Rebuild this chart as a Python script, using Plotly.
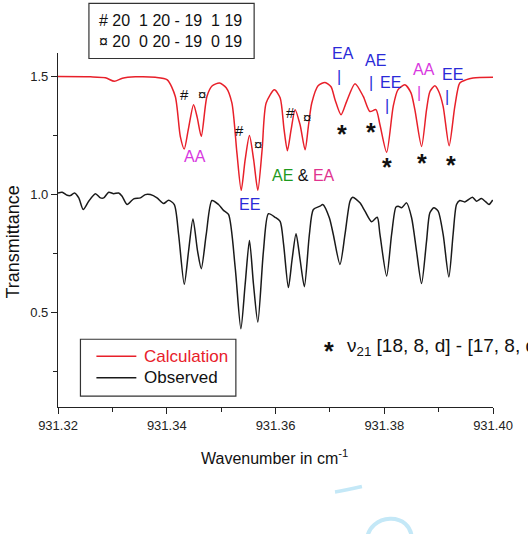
import plotly.graph_objects as go

# ---------------- data ----------------
calc_wn = [931.32000, 931.32597, 931.32872, 931.33037, 931.33184, 931.33423, 931.33790, 931.34010,
           931.34157, 931.34249, 931.34322, 931.34396, 931.34493, 931.34561, 931.34635, 931.34739,
           931.34837, 931.34970, 931.35093, 931.35198, 931.35290, 931.35369, 931.35442, 931.35521,
           931.35598, 931.35675, 931.35754, 931.35828, 931.35980, 931.36085, 931.36158, 931.36219,
           931.36287, 931.36360, 931.36452, 931.36544, 931.36608, 931.36667, 931.36783, 931.36911,
           931.37021, 931.37095, 931.37205, 931.37309, 931.37462, 931.37614, 931.37737, 931.37847,
           931.37921, 931.38044, 931.38165, 931.38251, 931.38380, 931.38490, 931.38563, 931.38686,
           931.38778, 931.38839, 931.38930, 931.39004, 931.39083, 931.39193, 931.39298, 931.39389,
           931.39500, 931.39633, 931.40000]
calc_T = [1.500, 1.499, 1.495, 1.480, 1.493, 1.499, 1.497, 1.486,
          1.416, 1.247, 1.193, 1.275, 1.381, 1.326, 1.247, 1.416,
          1.461, 1.473, 1.453, 1.389, 1.178, 1.018, 1.148, 1.250,
          1.148, 1.018, 1.190, 1.388, 1.444, 1.410, 1.275, 1.186,
          1.275, 1.360, 1.296, 1.190, 1.296, 1.388, 1.461, 1.475,
          1.457, 1.402, 1.338, 1.395, 1.470, 1.416, 1.352, 1.360,
          1.296, 1.179, 1.374, 1.444, 1.465, 1.432, 1.360, 1.204,
          1.360, 1.436, 1.461, 1.436, 1.374, 1.207, 1.374, 1.473,
          1.486, 1.494, 1.497]

obs_wn = [931.32000, 931.32077, 931.32169, 931.32229, 931.32303, 931.32382, 931.32463, 931.32565,
          931.32688, 931.32780, 931.32841, 931.32933, 931.33024, 931.33116, 931.33179, 931.33270,
          931.33392, 931.33515, 931.33606, 931.33698, 931.33821, 931.33942, 931.34034, 931.34139,
          931.34218, 931.34322, 931.34401, 931.34482, 931.34567, 931.34635, 931.34726, 931.34831,
          931.34952, 931.35044, 931.35136, 931.35259, 931.35363, 931.35442, 931.35521, 931.35595,
          931.35675, 931.35778, 931.35870, 931.35993, 931.36085, 931.36149, 931.36237, 931.36305,
          931.36378, 931.36452, 931.36531, 931.36623, 931.36696, 931.36819, 931.36869, 931.36990,
          931.37063, 931.37186, 931.37278, 931.37370, 931.37419, 931.37553, 931.37645, 931.37768,
          931.37871, 931.37921, 931.38044, 931.38135, 931.38214, 931.38257, 931.38319, 931.38411,
          931.38503, 931.38594, 931.38686, 931.38778, 931.38839, 931.38912, 931.38991, 931.39083,
          931.39188, 931.39266, 931.39329, 931.39389, 931.39481, 931.39622, 931.39696, 931.39788,
          931.39867, 931.39927, 931.39995]
obs_T = [1.007, 1.010, 0.997, 0.996, 1.007, 0.986, 0.937, 0.972,
         1.004, 0.986, 0.986, 1.010, 1.004, 1.007, 0.993, 0.958,
         0.982, 0.986, 1.000, 1.000, 0.986, 0.962, 0.976, 0.958,
         0.831, 0.620, 0.760, 0.897, 0.760, 0.686, 0.831, 0.975,
         0.958, 0.933, 0.916, 0.690, 0.432, 0.620, 0.806, 0.620,
         0.460, 0.760, 0.919, 0.904, 0.887, 0.789, 0.606, 0.725,
         0.834, 0.725, 0.610, 0.831, 0.937, 0.951, 0.958, 0.902,
         0.831, 0.704, 0.831, 0.972, 0.989, 0.965, 0.930, 0.885,
         0.904, 0.831, 0.655, 0.831, 0.947, 0.951, 0.944, 0.965,
         0.902, 0.760, 0.623, 0.803, 0.923, 0.944, 0.930, 0.831,
         0.651, 0.831, 0.958, 0.975, 0.969, 0.989, 0.972, 0.983,
         0.969, 0.958, 0.977]

x_tick_vals = [931.32, 931.34, 931.36, 931.38, 931.40]
x_tick_text = ["931.32", "931.34", "931.36", "931.38", "931.40"]
y_tick_vals = [0.5, 1.0, 1.5]
y_tick_text = ["0.5", "1.0", "1.5"]

# assignment labels (text, wavenumber, transmittance, colour)
BLUE = "#2A2AD8"
MAG = "#D838E0"
GREEN = "#1E9A1E"
PINK = "#E0338F"
sym_labels = [("#", 931.34328, 1.423), ("¤", 931.34647, 1.426),
              ("#", 931.35338, 1.271), ("¤", 931.35686, 1.212),
              ("#", 931.36268, 1.349), ("¤", 931.36575, 1.327)]
type_labels = [("AA", 931.34511, 1.160, MAG), ("EE", 931.35521, 0.958, BLUE),
               ("EA", 931.37247, 1.596, BLUE), ("|", 931.37168, 1.500, BLUE),
               ("AE", 931.37830, 1.567, BLUE), ("|", 931.37750, 1.473, BLUE),
               ("EE", 931.38117, 1.475, BLUE), ("|", 931.38044, 1.379, BLUE),
               ("AA", 931.38728, 1.529, MAG), ("|", 931.38637, 1.431, MAG),
               ("EE", 931.39248, 1.511, BLUE), ("|", 931.39156, 1.414, BLUE)]
star_pos = [(931.37218, 1.282), (931.37750, 1.289), (931.38055, 1.141),
            (931.38686, 1.160), (931.39219, 1.151)]

FONT = "Liberation Sans, Arial, sans-serif"

fig = go.Figure()
fig.add_trace(go.Scatter(x=calc_wn, y=calc_T, mode="lines", name="Calculation",
                         line=dict(color="#E8202A", width=1.5, shape="spline", smoothing=0.7),
                         showlegend=False))
fig.add_trace(go.Scatter(x=obs_wn, y=obs_T, mode="lines", name="Observed",
                         line=dict(color="#1A1A1A", width=1.5, shape="spline", smoothing=0.7),
                         showlegend=False))


def label(x, y, text, size, color, xref="x", yref="y", xanchor="center", yanchor="middle",
          yshift=0, textangle=0):
    fig.add_annotation(x=x, y=y, xref=xref, yref=yref, text=text, showarrow=False,
                       xanchor=xanchor, yanchor=yanchor, yshift=yshift, textangle=textangle,
                       font=dict(family=FONT, size=size, color=color))


for t, x, y in sym_labels:
    label(x, y, t, 15, "#111")
for t, x, y, c in type_labels:
    label(x, y, t, 16, c)
label(931.36507, 1.081,
      f"<span style='color:{GREEN}'>AE</span> & <span style='color:{PINK}'>EA</span>", 16, "#111")
for x, y in star_pos:
    label(x, y, "<b>*</b>", 25, "#111", yshift=-6)

# top-left key box
fig.add_shape(type="rect", xref="paper", yref="paper", x0=0.0711, x1=0.4509, y0=0.9845, y1=1.1404,
              line=dict(color="#333", width=1.2), fillcolor="white")
label(0.0906, 1.0916, "#\u00a020\u00a0\u00a01\u00a020\u00a0-\u00a019\u00a0\u00a01\u00a019", 16, "#111",
      xref="paper", yref="paper", xanchor="left")
label(0.0906, 1.0324, "¤\u00a020\u00a0\u00a00\u00a020\u00a0-\u00a019\u00a0\u00a00\u00a019", 16, "#111",
      xref="paper", yref="paper", xanchor="left")

# bottom legend (drawn)
fig.add_shape(type="rect", xref="paper", yref="paper", x0=0.0516, x1=0.4089, y0=0.031, y1=0.1914,
              line=dict(color="#333", width=1.2), fillcolor="white")
fig.add_shape(type="line", xref="paper", yref="paper", x0=0.0883, x1=0.1801, y0=0.1437, y1=0.1437,
              line=dict(color="#E8202A", width=1.5))
fig.add_shape(type="line", xref="paper", yref="paper", x0=0.0883, x1=0.1801, y0=0.0826, y1=0.0826,
              line=dict(color="#1A1A1A", width=1.5))
label(0.1925, 0.1437, "Calculation", 17, "#E8202A", xref="paper", yref="paper", xanchor="left")
label(0.1925, 0.0826, "Observed", 17, "#111", xref="paper", yref="paper", xanchor="left")

# footnote
label(0.623, 0.1756, "<b>*</b>", 25, "#111", xref="paper", yref="paper", yshift=-6)
label(0.6597, 0.1700, "ν<sub>21</sub> [18, 8, d] - [17, 8, d]", 19, "#111",
      xref="paper", yref="paper", xanchor="left")

# axis titles
label(0.4968, -0.140, "Wavenumber in cm<sup>-1</sup>", 16, "#111", xref="paper", yref="paper")
label(-0.1044, 0.466, "Transmittance", 18, "#111", xref="paper", yref="paper", textangle=-90)

# faint watermark strokes
fig.add_shape(type="path", xref="paper", yref="paper",
              path="M0.6368,-0.2400 Q0.66,-0.236 0.6987,-0.2247",
              line=dict(color="#C4E8F7", width=3.5))
fig.add_shape(type="path", xref="paper", yref="paper",
              path="M0.7102,-0.3777 C0.712,-0.30 0.815,-0.29 0.8134,-0.3777",
              line=dict(color="#C4E8F7", width=4))

fig.update_layout(
    width=528, height=534,
    margin=dict(l=57.5, r=34.7, t=52.5, b=126.7, autoexpand=False),
    paper_bgcolor="white", plot_bgcolor="white",
    font=dict(family=FONT, size=13, color="#222"),
    showlegend=False,
)
fig.update_xaxes(range=[931.32, 931.40], tickvals=x_tick_vals, ticktext=x_tick_text,
                 showline=True, linecolor="#222", linewidth=1.3, ticks="outside", ticklen=6,
                 tickcolor="#222", tickwidth=1.3, showgrid=False, zeroline=False,
                 minor=dict(tickvals=[931.33, 931.35, 931.37, 931.39], ticks="outside", ticklen=4,
                            tickcolor="#222", tickwidth=1.3, showgrid=False),
                 tickfont=dict(family=FONT, size=13, color="#222"))
fig.update_yaxes(range=[0.1, 1.6], tickvals=y_tick_vals, ticktext=y_tick_text,
                 showline=True, linecolor="#222", linewidth=1.3, ticks="outside", ticklen=6,
                 tickcolor="#222", tickwidth=1.3, showgrid=False, zeroline=False,
                 minor=dict(tickvals=[0.25, 0.75, 1.25], ticks="outside", ticklen=4,
                            tickcolor="#222", tickwidth=1.3, showgrid=False),
                 tickfont=dict(family=FONT, size=13, color="#222"))

fig.write_html("out.html")
